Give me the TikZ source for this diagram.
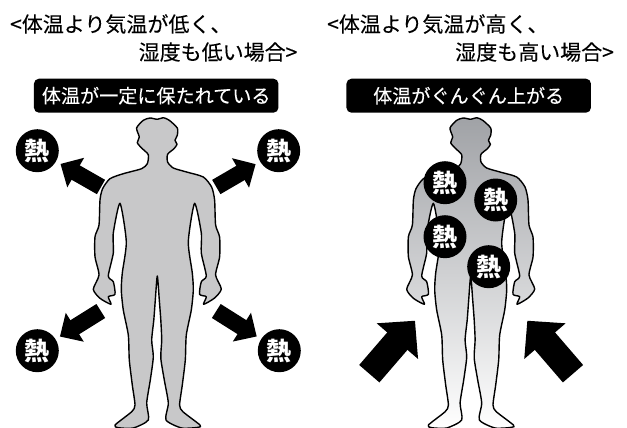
\documentclass[tikz,border=0pt]{standalone}
\usepackage{fontspec}
\setmainfont{Noto Sans CJK JP}
\newfontfamily\headfont[FakeBold=0.15]{Noto Sans CJK JP}
\usetikzlibrary{arrows.meta}
\definecolor{bodygray}{RGB}{200,200,201}
\definecolor{bodytop}{RGB}{160,162,166}

\tikzset{
  figure/.style={draw=black, line width=1.4pt, line join=round},
  banner/.style={fill=black, text=white, rounded corners=5pt, minimum width=244.5pt,
    minimum height=34pt, inner sep=0pt, font=\fontsize{19.1}{20}\headfont},
  heat/.style={circle, fill=black, text=white, minimum size=43pt, inner sep=0pt,
    font=\fontsize{25}{25}\selectfont\bfseries},
  heading/.style={anchor=base west, inner sep=0pt, font=\fontsize{21}{22}\headfont},
  loss/.style={-{Triangle[length=17.5pt,width=33pt]}, line width=16.5pt, shorten >=5pt},
  inflow/.style={-{Triangle[length=27pt,width=53pt]}, line width=26.7pt},
  pics/person/.style={code={
    \path[figure, #1] plot[smooth cycle, tension=.4] coordinates {
      % head and shoulder, right
      (0,119.3) (6,117.7) (12,120.3) (20,128) (20,135.3) (17.7,140.3) (19.7,144.3) (16.7,148.7)
      (10.3,154.3) (10.3,162) (16,168) (29.3,172) (46,177) (54.3,187)
      % right arm
      (57.3,200) (58.3,225) (62.3,237) (62.3,257) (58.3,275) (64,289) (57.3,298) (46.3,304.3)
      (49,296.7) (42.3,294.3) (44,281.7) (49,276) (44,253) (44,233) (37.3,203.3)
      % right side and leg
      (31,241.7) (35,273) (36,290) (34,310) (29,335) (28,360) (25,385) (22.3,405) (25.6,411.7)
      (42.7,425) (41,427.3) (24.4,428) (8.7,420) (11,403) (7,380) (3.5,358) (4.4,340) (3.5,320)
      (2,300) (0,276)
      % left leg and side
      (-2,300) (-3.5,320) (-5.6,340) (-4,357) (-7,380) (-10.6,403) (-9,420) (-24,428) (-39,427.7)
      (-42.3,425) (-25.6,411.7) (-22.3,405) (-25,385) (-28,360) (-29,335) (-34,310) (-36,290)
      (-35,273) (-31,241.7) (-37.3,203.3)
      % left arm
      (-44,233) (-44,253) (-49,276) (-44,281.7) (-42.3,294.3) (-49,296.7) (-46.3,304.3) (-57.3,298.3)
      (-64,289.3) (-58.3,275) (-62.3,256.7) (-62.3,236.7) (-58.3,225) (-57.3,200)
      % shoulder and head, left
      (-54.7,188.7) (-47.3,178.7) (-34,173.7) (-15.7,168.7) (-10,163.7) (-9,154.7) (-15.7,148)
      (-20,142.7) (-18,137) (-20.7,128) (-14,120.3) (-7.3,118)
    };
  }}
}

\begin{document}
\begin{tikzpicture}[x=1pt, y=-1pt]
  \useasboundingbox (0,0) rectangle (627,428);

  % dry and cool side
  \node[heading] (headA) at (10,32) {<体温より気温が低く、};
  \node[heading] (headB) at (138.5,60) {湿度も低い場合>};
  \node[banner] (bannerL) at (156.2,95.7) {体温が一定に保たれている};
  \pic at (157.3,0) {person={fill=bodygray}};

  \node[heat] (heatNW) at (37.3,150.7) {熱};
  \node[heat] (heatNE) at (278.7,150.7) {熱};
  \node[heat] (heatSW) at (37.3,350.7) {熱};
  \node[heat] (heatSE) at (279.3,350.7) {熱};
  \coordinate (tailNW) at (101,187);
  \coordinate (tailNE) at (216.3,187);
  \coordinate (tailSW) at (100.8,311);
  \coordinate (tailSE) at (216.3,311);
  \foreach \s in {NW,NE,SW,SE}
    \draw[loss] (tail\s) -- (heat\s);

  % hot and humid side
  \node[heading] (headC) at (327,32) {<体温より気温が高く、};
  \node[heading] (headD) at (455,60) {湿度も高い場合>};
  \node[banner] (bannerR) at (468.7,95.7) {体温がぐんぐん上がる};
  \pic at (470.7,0) {person={top color=bodytop, bottom color=white}};

  \node[heat] (heatA) at (445,182.7) {熱};
  \node[heat] (heatB) at (495.7,200) {熱};
  \node[heat] (heatC) at (445,236.7) {熱};
  \node[heat] (heatD) at (488.7,266.7) {熱};

  \coordinate (tailL) at (369.3,373.7);
  \coordinate (tipL) at (415,320.7);
  \coordinate (tailR) at (573,373.7);
  \coordinate (tipR) at (527.3,320.7);
  \draw[inflow] (tailL) -- (tipL);
  \draw[inflow] (tailR) -- (tipR);
\end{tikzpicture}
\end{document}
